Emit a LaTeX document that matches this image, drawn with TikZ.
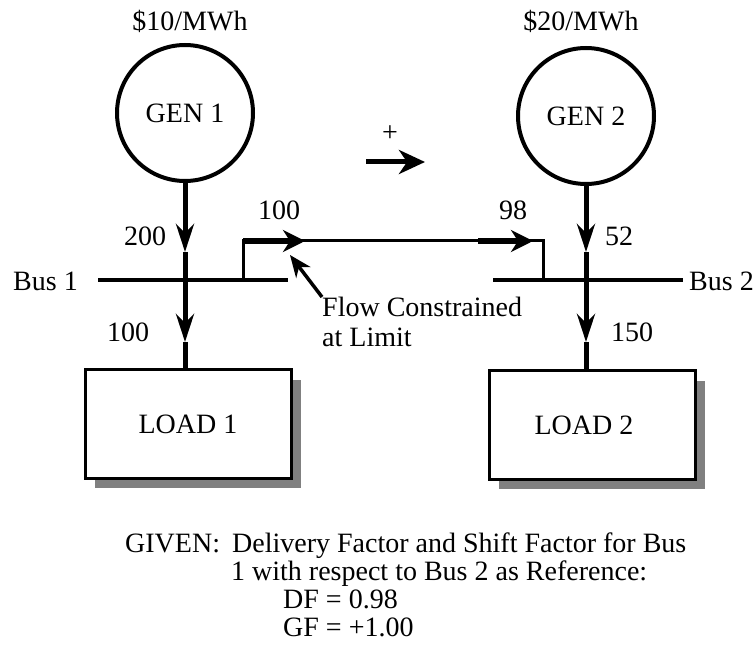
\documentclass[tikz,border=0pt]{standalone}
\usepackage{fontspec}
\setmainfont{Liberation Serif}
\usetikzlibrary{arrows.meta,shadows}
\begin{document}
\begin{tikzpicture}[x=1pt,y=-1pt,
  txt/.style={font=\fontsize{28}{30}\selectfont, inner sep=0pt},
  gen/.style={circle, draw, line width=4pt, minimum size=136pt, inner sep=0pt,
    font=\fontsize{28}{30}\selectfont},
  loadbox/.style={draw, line width=3pt, fill=white, minimum width=206pt,
    minimum height=108pt, inner sep=0pt, font=\fontsize{28}{30}\selectfont,
    drop shadow={shadow xshift=10pt, shadow yshift=-10pt, fill=black!50, opacity=1}},
  busline/.style={line width=4pt},
  vline/.style={line width=5pt},
  injarrow/.style={line width=5pt, -{Stealth[length=28pt,width=18pt,inset=9pt]}},
  branch/.style={line width=3pt},
  thickseg/.style={line width=6pt, -{Stealth[length=22pt,width=22pt,inset=7pt]}},
  flowarrow/.style={line width=3.5pt, -{Stealth[length=22pt,width=18pt,inset=7pt]}},
  dirarrow/.style={line width=5pt, -{Stealth[length=26pt,width=24pt,inset=8pt]}}]
\useasboundingbox (0,0) rectangle (756,647);

% generators and their prices
\node[gen] (g1) at (185,113) {GEN 1};
\node[gen] (g2) at (586,116) {GEN 2};
\node[txt] (p1) at (190,21) {\$10/MWh};
\node[txt] (p2) at (581,21) {\$20/MWh};

% loads
\node[loadbox] (load1) at (188,424) {\raisebox{-12pt}{LOAD 1}};
\node[loadbox] (load2) at (592,425) {\raisebox{-12pt}{LOAD 2\hspace{16pt}}};

% buses
\coordinate (b1w) at (98,280);
\coordinate (b1e) at (288,280);
\coordinate (b2w) at (493,280);
\coordinate (b2e) at (683,280);
\draw[busline] (b1w) -- (b1e);
\draw[busline] (b2w) -- (b2e);
\node[txt, anchor=west] (bus1) at (13,281) {Bus 1};
\node[txt, anchor=west] (bus2) at (689,281) {Bus 2};

% generator injections and load withdrawals
\coordinate (t1) at (185,252);
\coordinate (j1) at (185,280);
\coordinate (u1) at (185,342);
\draw[injarrow] (g1.south) -- (t1);
\draw[vline] (t1) -- (j1);
\draw[injarrow] (j1) -- (u1);
\draw[vline] (u1) -- (u1 |- load1.north);

\coordinate (t2) at (586,252);
\coordinate (j2) at (586,280);
\coordinate (u2) at (586,342);
\draw[injarrow] (g2.south) -- (t2);
\draw[vline] (t2) -- (j2);
\draw[injarrow] (j2) -- (u2);
\draw[vline] (u2) -- (u2 |- load2.north);

% transmission line between the buses
\coordinate (k1) at (243,280);
\coordinate (k2) at (243,241);
\coordinate (k3) at (543,241);
\coordinate (k4) at (543,280);
\draw[branch] (k1) -- (k2) -- (k3) -- (k4);
\coordinate (f1) at (305,241);
\coordinate (f2s) at (478,241);
\coordinate (f2) at (533,241);
\draw[thickseg] (k2) -- (f1);
\draw[thickseg] (f2s) -- (f2);

% flow values
\node[txt] (v200) at (145,236) {200};
\node[txt] (v52) at (619,236) {52};
\node[txt] (v100a) at (279,210) {100};
\node[txt] (v98) at (513,210) {98};
\node[txt] (v100b) at (128,332) {100};
\node[txt] (v150) at (632,332) {150};

% constraint annotation
\node[txt, align=left, anchor=north west] (flow) at (322,297) {Flow Constrained\\at Limit};
\coordinate (ftip) at (290,255);
\draw[flowarrow] (flow.north west) -- (ftip);

% positive direction
\node[txt] (plus) at (390,134) {+};
\coordinate (d1) at (366,162);
\coordinate (d2) at (425,162);
\draw[dirarrow] (d1) -- (d2);

% given data
\node[txt, anchor=base west] (given) at (125,552) {GIVEN:};
\node[txt, anchor=base west] (l1) at (232,552) {Delivery Factor and Shift Factor for Bus};
\node[txt, anchor=base west] (l2) at (231,580) {1 with respect to Bus 2 as Reference:};
\node[txt, anchor=base west] (l3) at (283,608) {DF = 0.98};
\node[txt, anchor=base west] (l4) at (283,636) {GF = +1.00};
\end{tikzpicture}
\end{document}
